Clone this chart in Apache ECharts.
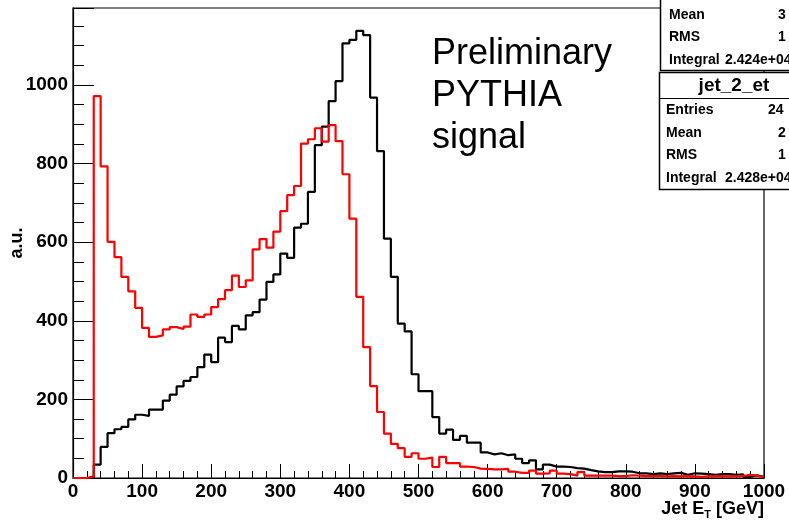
<!DOCTYPE html>
<html><head><meta charset="utf-8">
<script src="https://cdn.jsdelivr.net/npm/echarts@6/dist/echarts.min.js"></script>
<style>html,body{margin:0;padding:0;background:#fff;overflow:hidden}#c{width:789px;height:525px}</style>
</head><body><div id="c"></div>
<script>
// ---- data ----
const xMin = 0, binWidth = 10;           // GeV, 100 bins 0..1000
const jet1Et = [ // black histogram
  0,0,0,34,79,114,124,130,149,161,
  158,174,174,197,212,233,247,257,282,314,
  295,357,346,387,378,414,422,454,499,518,
  571,560,637,647,728,847,894,959,1010,1106,
  1115,1138,1127,968,832,609,512,393,373,264,
  221,221,155,113,123,97,107,90,90,65,
  60,63,58,60,49,38,45,22,34,29,
  29,28,25,24,20,17,15,15,17,17,
  16,12,12,10,12,10,12,13,8,12,
  11,10,8,10,10,8,9,3,7,3
];
const jet2Et = [ // red histogram
  0,0,4,972,793,601,562,512,475,433,
  382,359,363,378,384,379,385,416,410,416,
  435,455,478,515,486,503,582,608,586,627,
  679,720,743,851,862,890,856,898,857,773,
  660,461,333,234,168,113,87,76,54,63,
  49,52,28,54,38,38,29,28,24,23,
  22,22,23,16,13,13,19,11,12,19,
  11,10,6,15,6,6,6,6,5,5,
  7,6,5,5,5,4,5,4,5,4,
  3,4,5,4,4,5,5,8,6,2
];
const xRange = [0, 1000], xTickStep = 100;
const yRange = [0, 1196], yTickStep = 200;
const annotationLines = ['Preliminary', 'PYTHIA', 'signal'];
const stat1Labels = ['Mean', 'RMS', 'Integral'];
const stat1Values = ['3', '1', '2.424e+04'];
const stat2Title = 'jet_2_et';
const stat2Labels = ['Entries', 'Mean', 'RMS', 'Integral'];
const stat2Values = ['24', '2', '1', '2.428e+04'];

function toSteps(arr) {
  const d = arr.map((v, i) => [xMin + i * binWidth, v]);
  d.push([xMin + arr.length * binWidth, arr[arr.length - 1]]);
  return d;
}

const FONT = 'Liberation Sans, Arial, Helvetica, sans-serif';
const chart = echarts.init(document.getElementById('c'), null, {renderer: 'canvas'});

const graphics = [];
// annotation text
graphics.push({
  type: 'text', left: 432, top: 33, z: 10,
  style: {text: annotationLines.join('\n'), font: '36px ' + FONT, fill: '#000', lineHeight: 42}
});
// x axis title with subscript
graphics.push({
  type: 'text', z: 10, x: 764, y: 500,
  style: {text: '{b|Jet E}{s|T}{b| [GeV]}', textAlign: 'right', textVerticalAlign: 'top',
    rich: {
      b: {fontFamily: FONT, fontWeight: 'bold', fontSize: 18, fill: '#000', lineHeight: 20, verticalAlign: 'top'},
      s: {fontFamily: FONT, fontWeight: 'bold', fontSize: 11, fill: '#000', lineHeight: 12, padding: [9, 0, 0, 0], verticalAlign: 'top'}
    }}
});
// stat box 1 (partially off canvas)
graphics.push({type: 'rect', z: 20, shape: {x: 660.5, y: -20, width: 200, height: 90.5},
  style: {fill: '#fff', stroke: '#000', lineWidth: 1.5}});
stat1Labels.forEach((t, i) => {
  graphics.push({type: 'text', z: 21, x: 669, y: 15 + i * 22.5,
    style: {text: t, font: 'bold 14px ' + FONT, fill: '#000', textVerticalAlign: 'middle'}});
});
stat1Values.forEach((t, i) => {
  graphics.push({type: 'text', z: 21, x: (i === 2 ? 725 : 778), y: 15 + i * 22.5,
    style: {text: t, font: 'bold 14px ' + FONT, fill: '#000', textVerticalAlign: 'middle'}});
});
// stat box 2
graphics.push({type: 'rect', z: 20, shape: {x: 659.5, y: 72.5, width: 200, height: 117},
  style: {fill: '#fff', stroke: '#000', lineWidth: 1.5}});
graphics.push({type: 'line', z: 21, shape: {x1: 659.5, y1: 98.5, x2: 860, y2: 98.5},
  style: {stroke: '#000', lineWidth: 1}});
graphics.push({type: 'text', z: 21, x: 734, y: 86,
  style: {text: stat2Title, font: 'bold 19px ' + FONT, fill: '#000', textAlign: 'center', textVerticalAlign: 'middle'}});
stat2Labels.forEach((t, i) => {
  graphics.push({type: 'text', z: 21, x: 666, y: 110 + i * 22.7,
    style: {text: t, font: 'bold 14px ' + FONT, fill: '#000', textVerticalAlign: 'middle'}});
});
stat2Values.forEach((t, i) => {
  graphics.push({type: 'text', z: 21, x: (i === 0 ? 768 : (i === 3 ? 725 : 778)), y: 110 + i * 22.7,
    style: {text: t, font: 'bold 14px ' + FONT, fill: '#000', textVerticalAlign: 'middle'}});
});

chart.setOption({
  animation: false,
  backgroundColor: '#fff',
  grid: {left: 73, right: 25, top: 8, bottom: 47, containLabel: false, outerBoundsMode: 'none',
    show: true, borderColor: '#000', borderWidth: 1.2, backgroundColor: 'transparent'},
  xAxis: {
    type: 'value', min: xRange[0], max: xRange[1], interval: xTickStep,
    axisLine: {show: true, lineStyle: {color: '#000', width: 1.2}},
    axisTick: {show: true, inside: true, length: 14, lineStyle: {color: '#000', width: 1}},
    minorTick: {show: true, splitNumber: 5, length: 7, lineStyle: {color: '#000', width: 1}},
    splitLine: {show: false},
    axisLabel: {fontFamily: FONT, fontWeight: 'bold', fontSize: 19, color: '#000', margin: 4,
      showMinLabel: true, showMaxLabel: true, formatter: v => String(v)}
  },
  yAxis: {
    type: 'value', min: yRange[0], max: yRange[1], interval: yTickStep,
    name: 'a.u.', nameLocation: 'middle', nameGap: 47, nameRotate: 90, nameMoveOverlap: false,
    nameTextStyle: {fontFamily: FONT, fontWeight: 'bold', fontSize: 18, color: '#000'},
    axisLine: {show: true, lineStyle: {color: '#000', width: 1.2}},
    axisTick: {show: true, inside: true, length: 21, lineStyle: {color: '#000', width: 1}},
    minorTick: {show: true, splitNumber: 4, length: 11, lineStyle: {color: '#000', width: 1}},
    splitLine: {show: false},
    axisLabel: {fontFamily: FONT, fontWeight: 'bold', fontSize: 19, color: '#000', margin: 5,
      formatter: v => (v % 200 === 0 && v <= 1000) ? String(v) : ''}
  },
  series: [
    {name: 'jet_1_et', type: 'line', step: 'end', symbol: 'none', data: toSteps(jet1Et),
      lineStyle: {color: '#000', width: 2.2}, z: 3},
    {name: 'jet_2_et', type: 'line', step: 'end', symbol: 'none', data: toSteps(jet2Et),
      lineStyle: {color: '#ff0000', width: 2.2}, z: 4}
  ],
  graphic: graphics
});
</script></body></html>
